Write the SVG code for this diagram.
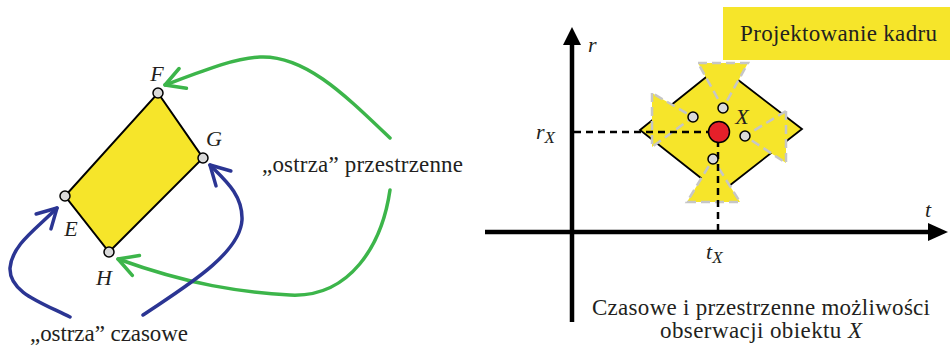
<svg xmlns="http://www.w3.org/2000/svg" width="950" height="347" viewBox="0 0 950 347">
<defs>
<style>
.t{font-family:"Liberation Serif","Times New Roman",serif;fill:#231f20;}
.i{font-style:italic;}
.g{fill:none;stroke:#3cb54a;stroke-width:3.5;stroke-linecap:round;}
.b{fill:none;stroke:#2b3593;stroke-width:3.5;stroke-linecap:round;}
.pt{fill:#d9d9d9;stroke:#000;stroke-width:1.5;}
.ax{stroke:#000;stroke-width:4.5;fill:none;}
.dash{stroke:#000;stroke-width:2.5;stroke-dasharray:7,5;fill:none;}
.tri{fill:#f6e52a;stroke:#c6c6c6;stroke-width:2.5;stroke-dasharray:9,5;}
</style>
<marker id="ag" markerUnits="userSpaceOnUse" orient="auto" markerWidth="30" markerHeight="30" refX="0" refY="0" viewBox="-25 -15 30 30" overflow="visible">
<path d="M-19,-10.5 L0,0 L-19,10.5" fill="none" stroke="#3cb54a" stroke-width="3.5" stroke-linecap="round" stroke-linejoin="round"/>
</marker>
<marker id="ab" markerUnits="userSpaceOnUse" orient="auto" markerWidth="30" markerHeight="30" refX="0" refY="0" viewBox="-25 -15 30 30" overflow="visible">
<path d="M-19,-10.5 L0,0 L-19,10.5" fill="none" stroke="#2b3593" stroke-width="3.5" stroke-linecap="round" stroke-linejoin="round"/>
</marker>
</defs>
<rect width="950" height="347" fill="#fff"/>

<g id="frame">
<polygon points="158,93 203,158 109,252 65,196" fill="#f6e52a" stroke="#000" stroke-width="2"/>
</g>
<g id="F"><circle class="pt" cx="158" cy="93" r="5"/><text class="t i" x="157" y="81" font-size="22" text-anchor="middle">F</text></g>
<g id="G"><circle class="pt" cx="203" cy="158" r="5"/><text class="t i" x="214" y="146" font-size="22" text-anchor="middle">G</text></g>
<g id="E"><circle class="pt" cx="65" cy="196" r="5"/><text class="t i" x="71" y="236" font-size="22" text-anchor="middle">E</text></g>
<g id="H"><circle class="pt" cx="109" cy="252" r="5"/><text class="t i" x="104" y="285" font-size="22" text-anchor="middle">H</text></g>

<g id="connectors">
<path class="g" d="M390,138 C345,95 305,55 260,57 C235,58 205,70 165,85" marker-end="url(#ag)"/>
<path class="g" d="M390,190 C382,245 350,298 290,295 C240,292 190,285 118,259" marker-end="url(#ag)"/>
<path class="b" d="M70,317 C40,302 9,292 10,268 C12,245 35,230 57,208" marker-end="url(#ab)"/>
<path class="b" d="M143,315 C180,290 240,255 242,220 C243,195 225,180 210,165" marker-end="url(#ab)"/>
</g>

<g id="label-space"><text class="t" x="262" y="172" font-size="23" textLength="201" lengthAdjust="spacing">„ostrza” przestrzenne</text></g>
<g id="label-time"><text class="t" x="30" y="341" font-size="23" textLength="158" lengthAdjust="spacing">„ostrza” czasowe</text></g>

<g id="title">
<rect x="723" y="7" width="227" height="53" fill="#f6e52a"/>
<text class="t" x="740" y="41" font-size="23" textLength="197" lengthAdjust="spacing">Projektowanie kadru</text>
</g>

<g id="axes">
<line class="ax" x1="572" y1="42" x2="572" y2="322"/>
<polygon points="572,27 563,45 581,45" fill="#000"/>
<line class="ax" x1="485" y1="232" x2="930" y2="232"/>
<polygon points="948,232 928,223 928,241" fill="#000"/>
<text class="t i" x="588" y="52" font-size="22">r</text>
<text class="t i" x="925" y="217" font-size="22">t</text>
<text class="t i" x="536" y="139" font-size="22">r<tspan font-size="17" dy="4">X</tspan></text>
<text class="t i" x="706" y="259" font-size="22">t<tspan font-size="17" dy="4">X</tspan></text>
</g>

<g id="object">
<polygon points="640,130 720,66 802,129 720,193" fill="#f6e52a" stroke="#000" stroke-width="1.8"/>
<polygon class="tri" points="698,63 748,63 723,108"/>
<polygon class="tri" points="652,93 652,147 693,117"/>
<polygon class="tri" points="786,111 786,163 745,136"/>
<polygon class="tri" points="687,202 740,202 713,159"/>
<line class="dash" x1="574" y1="132" x2="710" y2="132"/>
<line class="dash" x1="718" y1="140" x2="718" y2="230"/>
<circle class="pt" cx="723" cy="108" r="5"/>
<circle class="pt" cx="693" cy="117" r="5"/>
<circle class="pt" cx="745" cy="136" r="5"/>
<circle class="pt" cx="713" cy="159" r="5"/>
<circle cx="719" cy="132" r="10.5" fill="#e5202a" stroke="#000" stroke-width="1.5"/>
<text class="t i" x="742" y="124" font-size="22" text-anchor="middle">X</text>
</g>

<g id="caption">
<text class="t" x="592" y="315" font-size="23" textLength="338" lengthAdjust="spacing">Czasowe i przestrzenne możliwości</text>
<text class="t" x="660" y="338" font-size="23" textLength="202" lengthAdjust="spacing">obserwacji obiektu <tspan class="i">X</tspan></text>
</g>
</svg>
